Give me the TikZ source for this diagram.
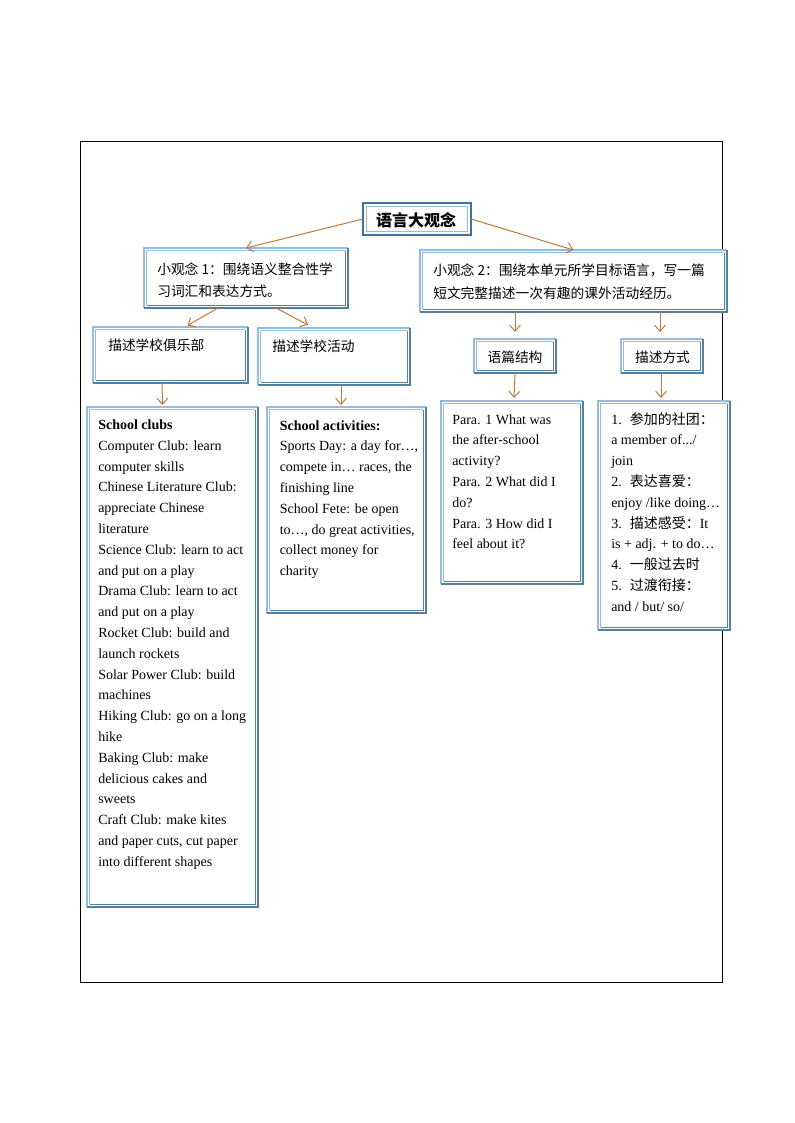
\documentclass[tikz,border=0pt]{standalone}
\usepackage{fontspec}
\setmainfont{Liberation Serif}
\newfontfamily\cjk{Noto Sans CJK SC}
\usetikzlibrary{arrows.meta,calc}
\definecolor{lb}{HTML}{95BBE0}
\definecolor{db}{HTML}{52809F}
\definecolor{tb}{HTML}{41719C}
\definecolor{arr}{HTML}{C5773A}
\tikzset{
  boxshape/.style={rectangle,fill=white,draw=none,inner sep=0pt,outer sep=0pt},
  lbline/.style={draw=lb,line width=0.8pt},
  dbline/.style={draw=db,line width=0.8pt},
  txt/.style={anchor=base west,inner sep=0pt,font=\fontsize{10.5}{12}\selectfont},
  zh/.style={anchor=base west,inner sep=0pt,font=\cjk\fontsize{10.3}{12}\selectfont},
  conn/.style={draw=arr,line width=0.75pt,-{Straight Barb[length=4.5pt,width=8pt]}},
}
\newcommand{\mkbox}[5]{%
  \pgfmathsetmacro\bw{(#4-#2)*0.75}%
  \pgfmathsetmacro\bh{(#5-#3)*0.75}%
  \node[boxshape,minimum width=\bw pt,minimum height=\bh pt] (#1) at ({(#2+#4)/2},{(#3+#5)/2}) {};
  \draw[lbline] (#1.south west) -- (#1.north west) -- (#1.north east);
  \draw[dbline] (#1.north east) -- (#1.south east) -- (#1.south west);
  \draw[lbline] ([shift={(1.9pt,1.9pt)}]#1.south west) -- ([shift={(1.9pt,-1.9pt)}]#1.north west) -- ([shift={(-1.9pt,-1.9pt)}]#1.north east);
  \draw[dbline] ([shift={(-1.9pt,-1.9pt)}]#1.north east) -- ([shift={(-1.9pt,1.9pt)}]#1.south east) -- ([shift={(1.9pt,1.9pt)}]#1.south west);
}
\newcommand{\mklines}[4]{%
  \foreach \ltxt [count=\i] in {#4} {\node[txt] (#1-\i) at (#2,{#3+(\i-1)*20.8}) {\ltxt};}%
}
\begin{document}
\begin{tikzpicture}[x=0.75pt,y=-0.75pt]
\useasboundingbox (0,0) rectangle (794,1123);
\fill[white] (0,0) rectangle (794,1123);
% outer frame
\draw[black,line width=0.6pt] (80,141) rectangle (722,982);

% top box
\node[boxshape,minimum width={108*0.75pt},minimum height={32*0.75pt}] (top) at (417,219) {};
\draw[tb,line width=2.2pt] (top.south west) rectangle (top.north east);
\draw[lb,line width=0.7pt] ([shift={(2.8pt,2.8pt)}]top.south west) rectangle ([shift={(-2.8pt,-2.8pt)}]top.north east);
\node[inner sep=0pt,font=\cjk\bfseries\fontsize{12}{14}\selectfont] (toptxt) at (416,220) {语言大观念};

% level 2
\mkbox{b1}{144}{248}{348}{308}
\mkbox{b2}{420}{250}{727}{312}
\node[zh] (b1t1) at (157,274.5) {小观念 1：围绕语义整合性学};
\node[zh] (b1t2) at (157,296) {习词汇和表达方式。};
\node[zh] (b2t1) at (433,275) {小观念 2：围绕本单元所学目标语言，写一篇};
\node[zh] (b2t2) at (433,298) {短文完整描述一次有趣的课外活动经历。};

% level 3
\mkbox{c1}{93}{327}{248}{383}
\mkbox{c2}{258}{328}{410}{385}
\mkbox{s1}{474}{339}{556}{373}
\mkbox{s2}{621}{339}{703}{373}
\node[zh] (c1t) at (108,350) {描述学校俱乐部};
\node[zh] (c2t) at (272,351.5) {描述学校活动};
\node[inner sep=0pt,font=\cjk\fontsize{10.3}{12}\selectfont] (s1t) at (515,357) {语篇结构};
\node[inner sep=0pt,font=\cjk\fontsize{10.3}{12}\selectfont] (s2t) at (662.5,357) {描述方式};

% level 4
\mkbox{d1}{87}{407}{258}{907}
\mkbox{d2}{267}{407}{426}{613}
\mkbox{p1}{441}{401}{583}{584}
\mkbox{p2}{598}{401}{730}{630}

\mklines{d1}{98}{429.5}{{\textbf{School clubs}},{Computer Club:  learn},{computer skills},{Chinese Literature Club:},{appreciate Chinese},{literature},{Science Club: learn to act},{and put on a play},{Drama Club:  learn to act},{and put on a play},{Rocket Club:  build  and},{launch rockets},{Solar Power Club:  build},{machines},{Hiking  Club:  go on a long},{hike},{Baking  Club:  make},{delicious  cakes and},{sweets},{Craft Club:  make kites},{and paper  cuts, cut paper},{into  different  shapes}}
\mklines{d2}{279.5}{430}{{\textbf{School activities:}},{Sports Day: a day for…,},{compete in… races, the},{finishing  line},{School Fete: be open},{to…, do great activities,},{collect money  for},{charity}}
\mklines{p1}{452}{424}{{Para. 1 What was},{the after-school},{activity?},{Para. 2 What did  I},{do?},{Para. 3 How did  I},{feel about it?}}
\mklines{p2}{611}{424}{{1.\hspace{6pt}{\cjk 参加的社团：}},{a member of.{}.{}./},{join},{2.\hspace{6pt}{\cjk 表达喜爱：}},{enjoy /like doing…},{3.\hspace{6pt}{\cjk 描述感受：}It},{is + adj. + to do…},{4.\hspace{6pt}{\cjk 一般过去时}},{5.\hspace{6pt}{\cjk 过渡衔接：}},{and / but/ so/}}

% connectors
\draw[conn] (top.west) -- (b1.north);
\draw[conn] (top.east) -- (b2.north);
\draw[conn] ($(b1.south)+(-28,0)$) -- ($(c1.north)+(17,-1.5)$);
\draw[conn] ($(b1.south)+(30,0)$) -- ($(c2.north)+(-26,-3)$);
\draw[conn] ($(c1.south)+(-8.5,0)$) -- ($(d1.north)+(-10,-2)$);
\draw[conn] ($(c2.south)+(7,0)$) -- ($(d2.north)+(-5.5,-2)$);
\draw[conn] (b2.south -| s1.north) -- ($(s1.north)+(0,-7)$);
\draw[conn] ($(b2.south -| s2.north)+(-2,0)$) -- ($(s2.north)+(-2,-7)$);
\draw[conn] (s1.south) -- ($(p1.north)+(2,-3)$);
\draw[conn] ($(s2.south)+(-1,0)$) -- ($(p2.north)+(-3,-3)$);
\end{tikzpicture}
\end{document}
